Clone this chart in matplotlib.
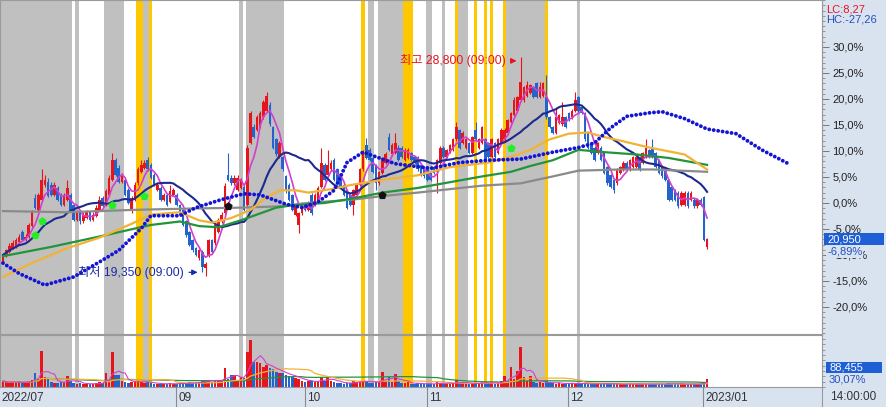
import numpy as np
import pandas as pd
import matplotlib
matplotlib.use('Agg')
import matplotlib.pyplot as plt
from matplotlib.patches import Rectangle
from matplotlib.ticker import FixedLocator, MultipleLocator, FuncFormatter

plt.rcParams['font.family'] = ['Liberation Sans', 'Noto Sans CJK KR', 'DejaVu Sans']

# ---- half-day bars (09:00 / 14:00), 2022-07 .. 2023-01-02 ----
open_ = [19950, 20200, 20400, 20550, 20600, 20800, 21250, 20900, 21050, 21500,
         22700, 22200, 22650, 23300, 23400, 23300, 22850, 23150, 22850, 22400,
         22650, 22850, 22400, 21750, 22100, 21700, 21850, 22100, 21750, 21950,
         22200, 22700, 22400, 22850, 23500, 24350, 24000, 23400, 23500, 23050,
         22200, 22650, 23350, 23850, 24000, 24350, 24150, 23700, 23050, 23150,
         22650, 22850, 22550, 22850, 22850, 22400, 22200, 21700, 21250, 20900,
         20550, 20100, 20400, 19700, 20200, 20900, 20750, 21250, 21700, 22050,
         23700, 23600, 23350, 23050, 23150, 23200, 22400, 25100, 25800, 25650,
         25800, 26200, 26500, 26750, 25800, 25250, 24500, 24500, 23650, 23300,
         22850, 22000, 21550, 22050, 22500, 22200, 22850, 22400, 22650, 23200,
         24150, 23700, 23950, 24350, 23950, 23650, 23300, 23050, 22850, 22400,
         22850, 23300, 23950, 25000, 24800, 24450, 24150, 23350, 23800, 24250,
         25350, 24600, 24650, 24900, 24900, 24350, 24450, 24650, 24500, 24500,
         24150, 24050, 24050, 23850, 24050, 23850, 24250, 24900, 24500, 24700,
         24800, 25250, 25650, 25100, 24900, 25100, 24650, 25650, 24900, 25100,
         25250, 25100, 24500, 25100, 24650, 25100, 25250, 25550, 26000, 26300,
         26500, 26950, 26950, 27150, 27250, 27500, 27700, 27100, 27150, 27100,
         26200, 25800, 25550, 25950, 25900, 26200, 26400, 26200, 26500, 27100,
         26650, 26400, 25550, 25100, 24900, 24650, 24900, 24650, 24050, 23700,
         23500, 23350, 23800, 23950, 24250, 23950, 24050, 24050, 24500, 24250,
         24500, 24800, 24900, 24650, 24350, 24050, 23950, 23500, 23200, 23050,
         22950, 22400, 22400, 22950, 22650, 22650, 22350, 22650, 22750, 20600]
close_ = [20250, 20450, 20650, 20750, 20900, 21050, 20900, 21050, 21550, 22100,
          22300, 22850, 23500, 23500, 22800, 22850, 23300, 22650, 22400, 22850,
          23150, 22200, 21750, 22100, 21700, 22000, 22100, 21750, 22000, 22300,
          22650, 22350, 23000, 23600, 24350, 23700, 23400, 23650, 22850, 22500,
          22700, 23300, 23950, 24150, 24250, 23950, 23600, 23300, 23300, 22650,
          22850, 22400, 23000, 23050, 22400, 22000, 21550, 21100, 20700, 20450,
          20250, 20450, 19750, 19850, 20900, 20400, 21550, 21750, 22000, 23250,
          23500, 23350, 23600, 23600, 23500, 22200, 24900, 26400, 25350, 26200,
          26400, 26850, 27150, 25900, 24900, 24600, 25100, 23950, 23000, 22650,
          22200, 22400, 22050, 22500, 22200, 22500, 22050, 22850, 23150, 24250,
          23500, 24150, 24250, 23500, 23400, 23200, 22850, 22300, 22400, 23050,
          23300, 23950, 24600, 24450, 24350, 23850, 23350, 23850, 24450, 24600,
          24800, 25000, 25100, 24350, 24500, 24800, 24800, 24350, 24250, 23950,
          23700, 23650, 23500, 23500, 23800, 24350, 24900, 24500, 24800, 25000,
          25250, 25800, 24900, 25550, 25250, 24650, 25350, 25250, 25250, 25800,
          24350, 24500, 25250, 24500, 25250, 25650, 25650, 26100, 26400, 26950,
          27100, 27750, 27500, 27600, 27600, 27100, 27100, 27500, 27700, 26200,
          25800, 25550, 26200, 26300, 26200, 25800, 26100, 26500, 26950, 26500,
          26400, 25250, 24900, 24650, 24350, 25100, 24350, 23800, 23350, 23200,
          23050, 23950, 24050, 24250, 23950, 24350, 24500, 24500, 23950, 24650,
          24900, 24500, 24500, 24050, 23800, 23650, 23500, 22650, 22650, 22650,
          22350, 22950, 22950, 22350, 22950, 22350, 22650, 22400, 20900, 20950]
high_ = [20300, 20500, 20750, 20900, 21000, 21150, 21350, 21150, 21650, 22200,
         22900, 22950, 23950, 23700, 23600, 23400, 23400, 23250, 22950, 22950,
         23500, 22950, 22450, 22200, 22150, 22100, 22200, 22150, 22100, 22400,
         22800, 22800, 23100, 23700, 24650, 24450, 24150, 23800, 23600, 23150,
         22800, 23400, 24050, 24350, 24350, 24500, 24250, 23800, 23400, 23250,
         22950, 22950, 23300, 23150, 22950, 22450, 22250, 21750, 21300, 20950,
         20600, 20500, 20450, 19950, 20950, 20950, 21600, 21850, 22100, 23350,
         24650, 23700, 23700, 23700, 23600, 23300, 25000, 26500, 25900, 26300,
         26500, 26950, 27300, 26850, 25850, 25300, 25200, 24550, 23700, 23350,
         22900, 22500, 22100, 22550, 22550, 22600, 22950, 22950, 23250, 24900,
         24250, 24800, 24350, 24450, 24000, 23700, 23350, 23100, 22900, 23100,
         23350, 24000, 24800, 25300, 24900, 24500, 24200, 23900, 24500, 24700,
         25550, 25100, 25550, 25000, 24950, 24900, 24900, 24700, 24550, 24550,
         24200, 24100, 24100, 23900, 24100, 24400, 24950, 24950, 24850, 25050,
         25300, 26000, 25700, 25600, 25300, 25150, 25400, 26000, 25300, 25850,
         25300, 25150, 25300, 25150, 25300, 25750, 25750, 26150, 26450, 27100,
         27150, 28800, 27550, 27800, 27650, 27550, 27750, 27750, 27750, 28050,
         26250, 25850, 26650, 26350, 26850, 26250, 26450, 26550, 27300, 27150,
         26700, 26450, 25600, 25150, 24950, 25150, 24950, 24700, 24100, 23750,
         23550, 24000, 24100, 24300, 24300, 24400, 24550, 24550, 24550, 24700,
         25250, 24850, 25250, 24700, 24400, 24100, 24000, 23550, 23250, 23100,
         23000, 23000, 23000, 23000, 23000, 22700, 22700, 22700, 22800, 21000]
low_ = [19850, 20150, 20350, 20500, 20550, 20750, 20850, 20850, 21000, 21450,
        22250, 22150, 22600, 23200, 22750, 22800, 22800, 22600, 22350, 22350,
        22600, 22150, 21700, 21700, 21600, 21650, 21800, 21700, 21700, 21900,
        22150, 22300, 22350, 22800, 23450, 23650, 23350, 23350, 22800, 22450,
        22050, 22600, 23300, 23800, 23950, 23900, 23550, 23250, 23000, 22600,
        22600, 22350, 22500, 22800, 22350, 21950, 21500, 21050, 20650, 20400,
        20200, 20050, 19500, 19350, 20150, 20350, 20700, 21200, 21650, 22000,
        23450, 23300, 23300, 23000, 23100, 22150, 22350, 25050, 25300, 25600,
        25750, 26150, 26450, 25850, 24850, 24550, 24450, 23900, 22950, 22600,
        22150, 21950, 21200, 22000, 22150, 22150, 22000, 22350, 22600, 23150,
        23450, 23650, 23900, 23450, 23350, 23150, 22800, 22250, 22350, 22000,
        22800, 23250, 23900, 24400, 24300, 23800, 23050, 23300, 23750, 24200,
        24750, 24550, 24600, 24300, 24450, 24300, 24400, 24300, 24200, 23900,
        23650, 23600, 23450, 23450, 23750, 22950, 24200, 24450, 24450, 24650,
        24750, 25200, 24850, 25050, 24850, 24600, 24600, 25200, 24850, 25050,
        24300, 24450, 24450, 24450, 24600, 25050, 25200, 25500, 25950, 26250,
        26450, 26900, 26850, 27100, 27200, 27050, 27050, 27050, 27100, 26150,
        25750, 25500, 25500, 25900, 25850, 25750, 26050, 26150, 26450, 26450,
        26350, 25200, 24850, 24600, 24300, 24600, 24300, 23750, 23300, 23150,
        22950, 23300, 23750, 23900, 23900, 23900, 24000, 24000, 23900, 24200,
        24450, 24450, 24450, 24000, 23750, 23600, 23450, 22600, 22600, 22600,
        22300, 22350, 22350, 22300, 22600, 22300, 22300, 22350, 20850, 20500]
volume = [28000, 22000, 18000, 24000, 20000, 26000, 19000, 21000, 30000, 35000,
          66000, 38000, 169000, 47000, 42000, 25000, 20000, 18000, 22000, 24000,
          52000, 26000, 20000, 15000, 18000, 14000, 16000, 12000, 15000, 18000,
          22000, 20000, 66000, 30000, 165000, 56000, 56000, 28000, 24000, 20000,
          22000, 26000, 30000, 24000, 20000, 22000, 18000, 16000, 14000, 15000,
          14000, 16000, 18000, 12000, 15000, 18000, 20000, 16000, 22000, 18000,
          20000, 24000, 30000, 28000, 35000, 24000, 30000, 28000, 26000, 89000,
          38000, 56000, 56000, 30000, 47000, 40000, 165000, 221000, 118000, 118000,
          113000, 94000, 103000, 89000, 85000, 70000, 66000, 66000, 56000, 52000,
          47000, 42000, 38000, 30000, 24000, 26000, 30000, 22000, 28000, 47000,
          30000, 47000, 28000, 24000, 20000, 18000, 16000, 20000, 18000, 26000,
          22000, 28000, 30000, 26000, 20000, 18000, 24000, 26000, 70000, 30000,
          47000, 24000, 61000, 26000, 20000, 18000, 22000, 16000, 14000, 18000,
          15000, 14000, 16000, 14000, 12000, 24000, 20000, 16000, 14000, 15000,
          18000, 33000, 20000, 18000, 14000, 16000, 20000, 18000, 15000, 22000,
          24000, 18000, 20000, 16000, 18000, 26000, 52000, 30000, 94000, 38000,
          75000, 188000, 47000, 30000, 52000, 24000, 20000, 22000, 18000, 26000,
          20000, 18000, 16000, 20000, 14000, 16000, 18000, 20000, 15000, 14000,
          16000, 18000, 14000, 12000, 15000, 14000, 16000, 18000, 15000, 12000,
          14000, 15000, 13000, 12000, 14000, 16000, 14000, 15000, 13000, 12000,
          16000, 14000, 13000, 15000, 12000, 14000, 16000, 18000, 15000, 14000,
          13000, 16000, 14000, 12000, 15000, 14000, 13000, 16000, 24000, 38000]

# long moving averages (bar index, price)
ma60_x = [0, 9, 20, 30, 40, 46, 55, 61, 65, 71, 77, 81, 86, 91, 95, 102, 109, 118, 129,
          139, 151, 158, 164, 170, 176, 182, 187, 192, 201, 212, 219]
ma60_v = [19300, 19900, 20550, 21000, 21600, 22000, 22100, 21750, 21650, 21850, 22200,
          22650, 23050, 23050, 22950, 23100, 23300, 23500, 23700, 24050, 24250, 24500,
          24800, 25250, 25500, 25550, 25350, 25200, 24900, 24600, 23950]
ma120_x = [0, 15, 30, 46, 55, 61, 67, 74, 79, 85, 90, 100, 109, 118, 129, 139, 149, 158,
           164, 171, 179, 187, 197, 207, 219]
ma120_v = [20200, 20600, 21050, 21550, 21700, 21500, 21450, 21750, 22000, 22300, 22400,
           22500, 22700, 22950, 23150, 23400, 23650, 23850, 24100, 24350, 24800, 24700,
           24600, 24450, 24150]
ma240_x = [0, 20, 40, 55, 74, 85, 95, 109, 118, 129, 139, 149, 161, 171, 179, 192, 202, 219]
ma240_v = [22150, 22100, 22200, 22250, 22300, 22350, 22500, 22650, 22800, 22950, 23100,
           23250, 23350, 23650, 23900, 23950, 23950, 23850]
lead_x = [0, 5, 13, 22, 30, 36, 43, 46, 55, 60, 68, 75, 80, 88, 93, 98, 103, 107, 112, 116,
          122, 133, 142, 151, 161, 171, 179, 184, 189, 194, 201, 205, 212, 219, 228, 236, 245]
lead_v = [19900, 19450, 18950, 19300, 19950, 20450, 21400, 21950, 21950, 22300, 22650,
          22900, 22850, 22450, 22300, 22550, 23050, 24250, 24700, 24500, 24200, 24000,
          24250, 24350, 24400, 24700, 24900, 25100, 25750, 26250, 26400, 26450, 26150,
          25700, 25500, 24800, 24150]

# signal markers
green_sig_x = [10, 12, 34, 44, 158]
green_sig_y = [21100, 21700, 22400, 22800, 24900]
black_sig_x = [70, 118]
black_sig_y = [22350, 22850]

# shaded bars (start, end) inclusive
gray_bands = [(0, 21), (23, 23), (32, 37), (44, 45), (74, 74), (76, 87), (114, 115),
              (117, 124), (132, 133), (137, 137), (142, 144), (157, 168), (179, 179)]
yellow_bands = [(42, 43), (46, 46), (112, 112), (125, 127), (141, 141), (147, 147),
                (150, 150), (152, 152), (156, 156), (169, 169)]

month_pos = [0, 54, 94, 132, 176, 218]
month_lbl = ['2022/07', '09', '10', '11', '12', '2023/01']

BASE = 22500   # price at 0 %

# ---- layout (pixels) ----
W, H = 886, 407
PX0, PXSTEP = 3, 3.215
RIGHT = 822
P_BOT, V_TOP, V_BOT = 334, 335, 387
Y0, PXPCT = 203, 5.2

def fx(p):
    return p / W

def fy(p):
    return 1 - p / H

RED = '#e8141c'
BLUE = '#2563cc'
PANEL = '#d9e3f0'

fig = plt.figure(figsize=(W / 100, H / 100), dpi=100)
fig.patch.set_facecolor('white')
fig.add_artist(Rectangle((fx(RIGHT), 0), 1 - fx(RIGHT), 1, transform=fig.transFigure,
                         fc=PANEL, ec='none', zorder=0))
fig.add_artist(Rectangle((0, 0), 1, fy(V_BOT), transform=fig.transFigure,
                         fc=PANEL, ec='none', zorder=0))

xlim = (-PX0 / PXSTEP, (RIGHT - PX0) / PXSTEP)
pct_top = Y0 / PXPCT
pct_bot = (Y0 - P_BOT) / PXPCT

ax = fig.add_axes([0, fy(P_BOT), fx(RIGHT), P_BOT / H])
axv = fig.add_axes([0, fy(V_BOT), fx(RIGHT), (V_BOT - V_TOP) / H])
axd = fig.add_axes([0, 0, fx(RIGHT), fy(V_BOT)])

o = np.array(open_)
c = np.array(close_)
hi = np.array(high_)
lo = np.array(low_)
vol = np.array(volume)
idx = np.arange(len(c))
cols = np.where(c >= o, RED, BLUE)

for a in (ax, axv):
    a.set_xlim(*xlim)
    a.set_xticks([])
    a.set_yticks([])
    for s in a.spines.values():
        s.set_color('#9a9a9a')
        s.set_linewidth(0.8)
    for s, e in gray_bands:
        a.axvspan(s - 0.5, e + 0.5, color='#c0c0c0', lw=0, zorder=0)
    for s, e in yellow_bands:
        a.axvspan(s - 0.5, e + 0.5, color='#fdc800', lw=0, zorder=0)

ax.set_ylim(BASE * (1 + pct_bot / 100), BASE * (1 + pct_top / 100))

# candles
ax.vlines(idx, lo, hi, colors=cols, lw=0.8, zorder=2)
body = np.where(np.abs(c - o) < 30, 30, c - o)
ax.bar(idx, body, bottom=o, width=0.8, color=cols, lw=0, zorder=2)

# moving averages
cs = pd.Series(c)
ax.plot(idx, cs.rolling(5, min_periods=1).mean(), color='#d23fcf', lw=1.2, zorder=3)
ax.plot(idx, cs.rolling(20, min_periods=1).mean(), color='#1c2a8e', lw=1.5, zorder=3)
ax.plot(ma240_x, ma240_v, color='#8a8a8a', lw=1.6, zorder=3)
ax.plot(ma120_x, ma120_v, color='#23943a', lw=1.6, zorder=3)
ax.plot(ma60_x, ma60_v, color='#f2b233', lw=1.6, zorder=3)
ax.plot(lead_x, lead_v, color='#1414d4', lw=2.8, ls=(0, (0.01, 1.15)),
        dash_capstyle='round', zorder=3)

ax.scatter(green_sig_x, green_sig_y, marker='p', s=40, color='#22f022', zorder=4, lw=0)
ax.scatter(black_sig_x, black_sig_y, marker='p', s=40, color='#111111', zorder=4, lw=0)

# high / low notes
ax.annotate('', xy=(160.6, 28650), xytext=(157.0, 28650), zorder=6,
            arrowprops=dict(arrowstyle='-|>', color=RED, lw=0.9, mutation_scale=8))
ax.text(156.4, 28650, '최고 28,800 (09:00)', color=RED, fontsize=8.8, ha='right',
        va='center', zorder=6)
ax.annotate('', xy=(61.4, 19500), xytext=(57.0, 19500), zorder=6,
            arrowprops=dict(arrowstyle='-|>', color='#1a2aa8', lw=0.9, mutation_scale=8))
ax.text(56.3, 19500, '최저 19,350 (09:00)', color='#1a2aa8', fontsize=8.8, ha='right',
        va='center', zorder=6)

# right % axis
ax2 = ax.twinx()
ax2.set_ylim(pct_bot, pct_top)
for k, s in ax2.spines.items():
    s.set_visible(k == 'right')
ax2.spines['right'].set_color('#9a9a9a')
ax2.yaxis.set_major_locator(FixedLocator(list(range(-20, 31, 5))))
ax2.yaxis.set_minor_locator(MultipleLocator(1))
ax2.yaxis.set_major_formatter(FuncFormatter(lambda v, _: f'{v:.1f}%'.replace('.', ',')))
ax2.tick_params(axis='y', which='major', length=5, width=0.7, color='#777777',
                labelsize=8, labelcolor='#222222', pad=2.5)
ax2.tick_params(axis='y', which='minor', length=2.5, width=0.6, color='#888888')

# volume
axv.set_ylim(0, 244000)
axv.bar(idx, vol, width=0.8, color=cols, lw=0, zorder=2)
vs = pd.Series(vol)
axv.plot(idx, vs.rolling(60, min_periods=1).mean(), color='#23943a', lw=0.9, zorder=3)
axv.plot(idx, vs.rolling(20, min_periods=1).mean(), color='#f2b233', lw=0.9, zorder=3)
axv.plot(idx, vs.rolling(5, min_periods=1).mean(), color='#d23fcf', lw=0.8, zorder=3)
axv2 = axv.twinx()
axv2.set_ylim(0, 244000)
for k, s in axv2.spines.items():
    s.set_visible(False)
axv2.yaxis.set_minor_locator(MultipleLocator(25000))
axv2.set_yticks([])
axv2.tick_params(axis='y', which='minor', length=2.5, width=0.6, color='#888888')

# date strip
axd.set_xlim(*xlim)
axd.set_ylim(0, 1)
axd.axis('off')
for p, t in zip(month_pos, month_lbl):
    if p > 0:
        axd.axvline(p - 0.2, color='#8a8a8a', lw=0.8)
    axd.text(p + 0.5 if p > 0 else p - 0.4, 0.45, t, fontsize=8.5, color='#333333',
             va='center', ha='left')
fig.add_artist(plt.Line2D([fx(RIGHT), fx(RIGHT)], [0, fy(V_BOT)], color='#9a9a9a', lw=0.8))
fig.text(fx(830), fy(397), '14:00:00', fontsize=8.5, color='#333333', va='center')

# right panel labels
fig.text(fx(826), fy(9), 'LC:8,27', fontsize=8, color=RED, va='center')
fig.text(fx(826), fy(20), 'HC:-27,26', fontsize=8, color='#2450c0', va='center')
fig.add_artist(Rectangle((fx(824), fy(245)), fx(60), 12 / H, transform=fig.transFigure,
                         fc='#1f5fd6', ec='none'))
fig.text(fx(827), fy(239), '20,950', fontsize=8, color='white', va='center')
fig.text(fx(827), fy(252), '-6,89%', fontsize=8, color='#2450c0', va='center',
         bbox=dict(fc=PANEL, ec='none', pad=0.6))
fig.add_artist(Rectangle((fx(826), fy(373)), fx(56), 11 / H, transform=fig.transFigure,
                         fc='#1f5fd6', ec='none'))
fig.text(fx(829), fy(368), '88,455', fontsize=8, color='white', va='center')
fig.text(fx(829), fy(379), '30,07%', fontsize=8, color='#2450c0', va='center')

fig.savefig('out.png', dpi=100)
